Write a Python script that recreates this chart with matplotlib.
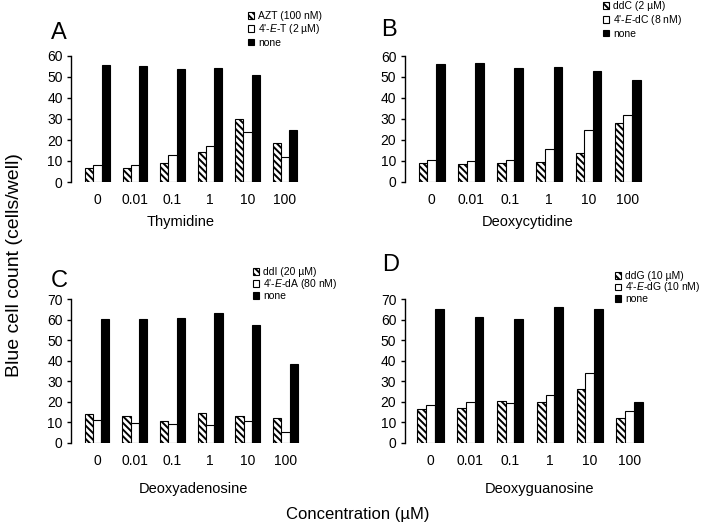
import matplotlib
matplotlib.use("Agg")
import matplotlib.pyplot as plt
from matplotlib.patches import Patch
import numpy as np

plt.rcParams['font.family'] = ['Liberation Sans', 'DejaVu Sans']
plt.rcParams['mathtext.fontset'] = 'custom'
plt.rcParams['mathtext.it'] = 'Liberation Sans:italic'
plt.rcParams['mathtext.rm'] = 'Liberation Sans'
plt.rcParams['hatch.linewidth'] = 1.4

# ---------------- data ----------------
conc_labels = ['0', '0.01', '0.1', '1', '10', '100']

A_drug = [6.7, 6.7, 8.9, 14.4, 30.0, 18.7]
A_ethynyl = [7.9, 7.9, 13.0, 17.1, 23.7, 11.9]
A_none = [55.8, 55.2, 54.0, 54.4, 50.8, 24.8]

B_drug = [8.8, 8.5, 8.8, 9.4, 13.7, 27.9]
B_ethynyl = [10.5, 9.7, 10.2, 15.5, 24.6, 31.9]
B_none = [56.2, 56.8, 54.5, 54.7, 52.8, 48.6]

C_drug = [14.0, 12.9, 10.4, 14.7, 12.9, 12.2]
C_ethynyl = [11.1, 9.8, 9.1, 8.8, 10.4, 5.2]
C_none = [60.3, 60.6, 61.1, 63.4, 57.3, 38.3]

D_drug = [16.3, 16.8, 20.2, 19.9, 26.1, 12.1]
D_ethynyl = [18.2, 19.7, 19.2, 23.3, 33.9, 15.3]
D_none = [65.1, 61.6, 60.3, 66.4, 65.5, 19.7]

A_legend = ['AZT (100 nM)', "4'-$E$-T (2 µM)", 'none']
B_legend = ['ddC (2 µM)', "4'-$E$-dC (8 nM)", 'none']
C_legend = ['ddI (20 µM)', "4'-$E$-dA (80 nM)", 'none']
D_legend = ['ddG (10 µM)', "4'-$E$-dG (10 nM)", 'none']

x_titles = ['Thymidine', 'Deoxycytidine', 'Deoxyadenosine', 'Deoxyguanosine']
panel_letters = ['A', 'B', 'C', 'D']

# ---------------- layout ----------------
W, H = 706, 529
fig = plt.figure(figsize=(W / 100, H / 100), dpi=100)

def frac_rect(left, right, bottom, top):
    return [left / W, 1 - bottom / H, (right - left) / W, (bottom - top) / H]

HATCH = '\\\\\\\\\\'
bw = 0.22

panels = [
    dict(data=(A_drug, A_ethynyl, A_none), leg=A_legend, ymax=60,
         rect=(71, 97.5, 37.5, 182, 56), legpos=(248, 11), lsp=0.12,
         letter=(51, 33), title=(181, 222)),
    dict(data=(B_drug, B_ethynyl, B_none), leg=B_legend, ymax=60,
         rect=(404.7, 431.7, 39.2, 181.5, 56), legpos=(603, 1), lsp=0.18,
         letter=(381, 30), title=(528, 222)),
    dict(data=(C_drug, C_ethynyl, C_none), leg=C_legend, ymax=70,
         rect=(71, 97, 37.7, 442.7, 299.3), legpos=(253, 267), lsp=0.0,
         letter=(51, 281), title=(193, 489)),
    dict(data=(D_drug, D_ethynyl, D_none), leg=D_legend, ymax=70,
         rect=(404.7, 430.5, 39.8, 442.7, 299.3), legpos=(615, 271), lsp=-0.05,
         letter=(382, 265), title=(540, 489)),
]

for i, p in enumerate(panels):
    axl, c0, sp, bot, top = p['rect']
    xl = (axl - c0) / sp
    xr = 5.5
    right = c0 + xr * sp
    ax = fig.add_axes(frac_rect(axl, right, bot, top))
    x = np.arange(len(conc_labels))
    d, e, n = p['data']
    ax.bar(x - bw, d, bw, color='white', edgecolor='black', hatch=HATCH, linewidth=0.8)
    ax.bar(x, e, bw, color='white', edgecolor='black', linewidth=0.8)
    ax.bar(x + bw, n, bw, color='black', edgecolor='black', linewidth=0.8)
    ax.set_xlim(xl, xr)
    ax.set_ylim(0, p['ymax'])
    ax.set_yticks(np.arange(0, p['ymax'] + 1, 10))
    ax.set_xticks(x)
    ax.set_xticklabels(conc_labels)
    for s in ['top', 'right', 'bottom']:
        ax.spines[s].set_visible(False)
    ax.spines['left'].set_linewidth(1.0)
    ax.tick_params(axis='y', length=3, width=1.0, pad=3, labelsize=10)
    ax.tick_params(axis='x', length=0, pad=8, labelsize=10)
    ax.patch.set_alpha(0)

    handles = [Patch(facecolor='white', edgecolor='black', hatch='\\\\\\\\\\', linewidth=0.8),
               Patch(facecolor='white', edgecolor='black', linewidth=0.8),
               Patch(facecolor='black', edgecolor='black', linewidth=0.8)]
    lx, ly = p['legpos']
    fig.legend(handles, p['leg'], loc='upper left',
               bbox_to_anchor=(lx / W, 1 - ly / H), frameon=False,
               fontsize=7.5, handlelength=0.6, handleheight=0.6,
               handletextpad=0.4, labelspacing=p['lsp'], borderpad=0,
               borderaxespad=0)

    lxp, lyp = p['letter']
    fig.text(lxp / W, 1 - lyp / H, panel_letters[i], fontsize=17,
             ha='left', va='center')
    tx, ty = p['title']
    fig.text(tx / W, 1 - ty / H, x_titles[i], fontsize=10.5,
             ha='center', va='center')

fig.text(15 / W, 1 - 265 / H, 'Blue cell count (cells/well)', rotation=90,
         fontsize=14, ha='center', va='center')
fig.text(358 / W, 1 - 514 / H, 'Concentration (µM)', fontsize=12,
         ha='center', va='center')

fig.savefig('out.png', dpi=100)
